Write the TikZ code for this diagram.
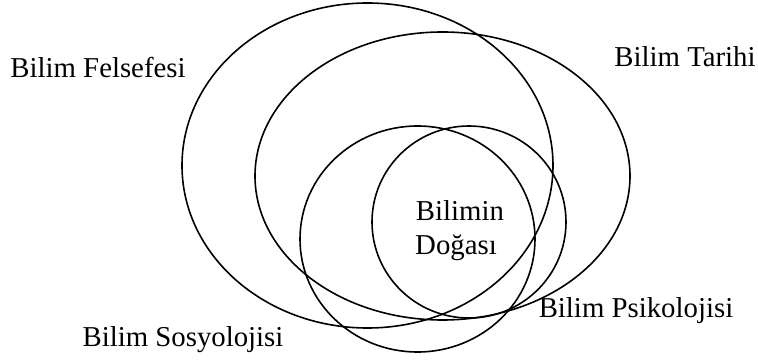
\documentclass[tikz,border=0pt]{standalone}
\usepackage{fontspec}
\setmainfont{Liberation Serif}
\usepackage{tikz}

\begin{document}
\begin{tikzpicture}[x=0.75pt,y=-0.75pt,line width=1.2pt,
    lbl/.style={inner sep=0pt,anchor=base,font=\fontsize{21.6}{25}\selectfont}]
    \useasboundingbox (0,0) rectangle (758,363);
    % the four fields
    \draw (367.5,165.5) ellipse [x radius=185.5,y radius=162.5];
    \draw (442.5,176) ellipse [x radius=187.5,y radius=144];
    \draw (417.5,239) ellipse [x radius=117.5,y radius=113];
    \draw (469,222) ellipse [x radius=97,y radius=96];
    % labels
    \node[lbl] (felsefe) at (98,78) {Bilim Felsefesi};
    \node[lbl] (tarih) at (685,67) {Bilim Tarihi};
    \node[lbl] (sosyoloji) at (183,347) {Bilim Sosyolojisi};
    \node[lbl] (psikoloji) at (636,318) {Bilim Psikolojisi};
    \node[lbl] (doga1) at (460,221) {Bilimin};
    \node[lbl] (doga2) at (456,255) {Doğası};
\end{tikzpicture}
\end{document}
